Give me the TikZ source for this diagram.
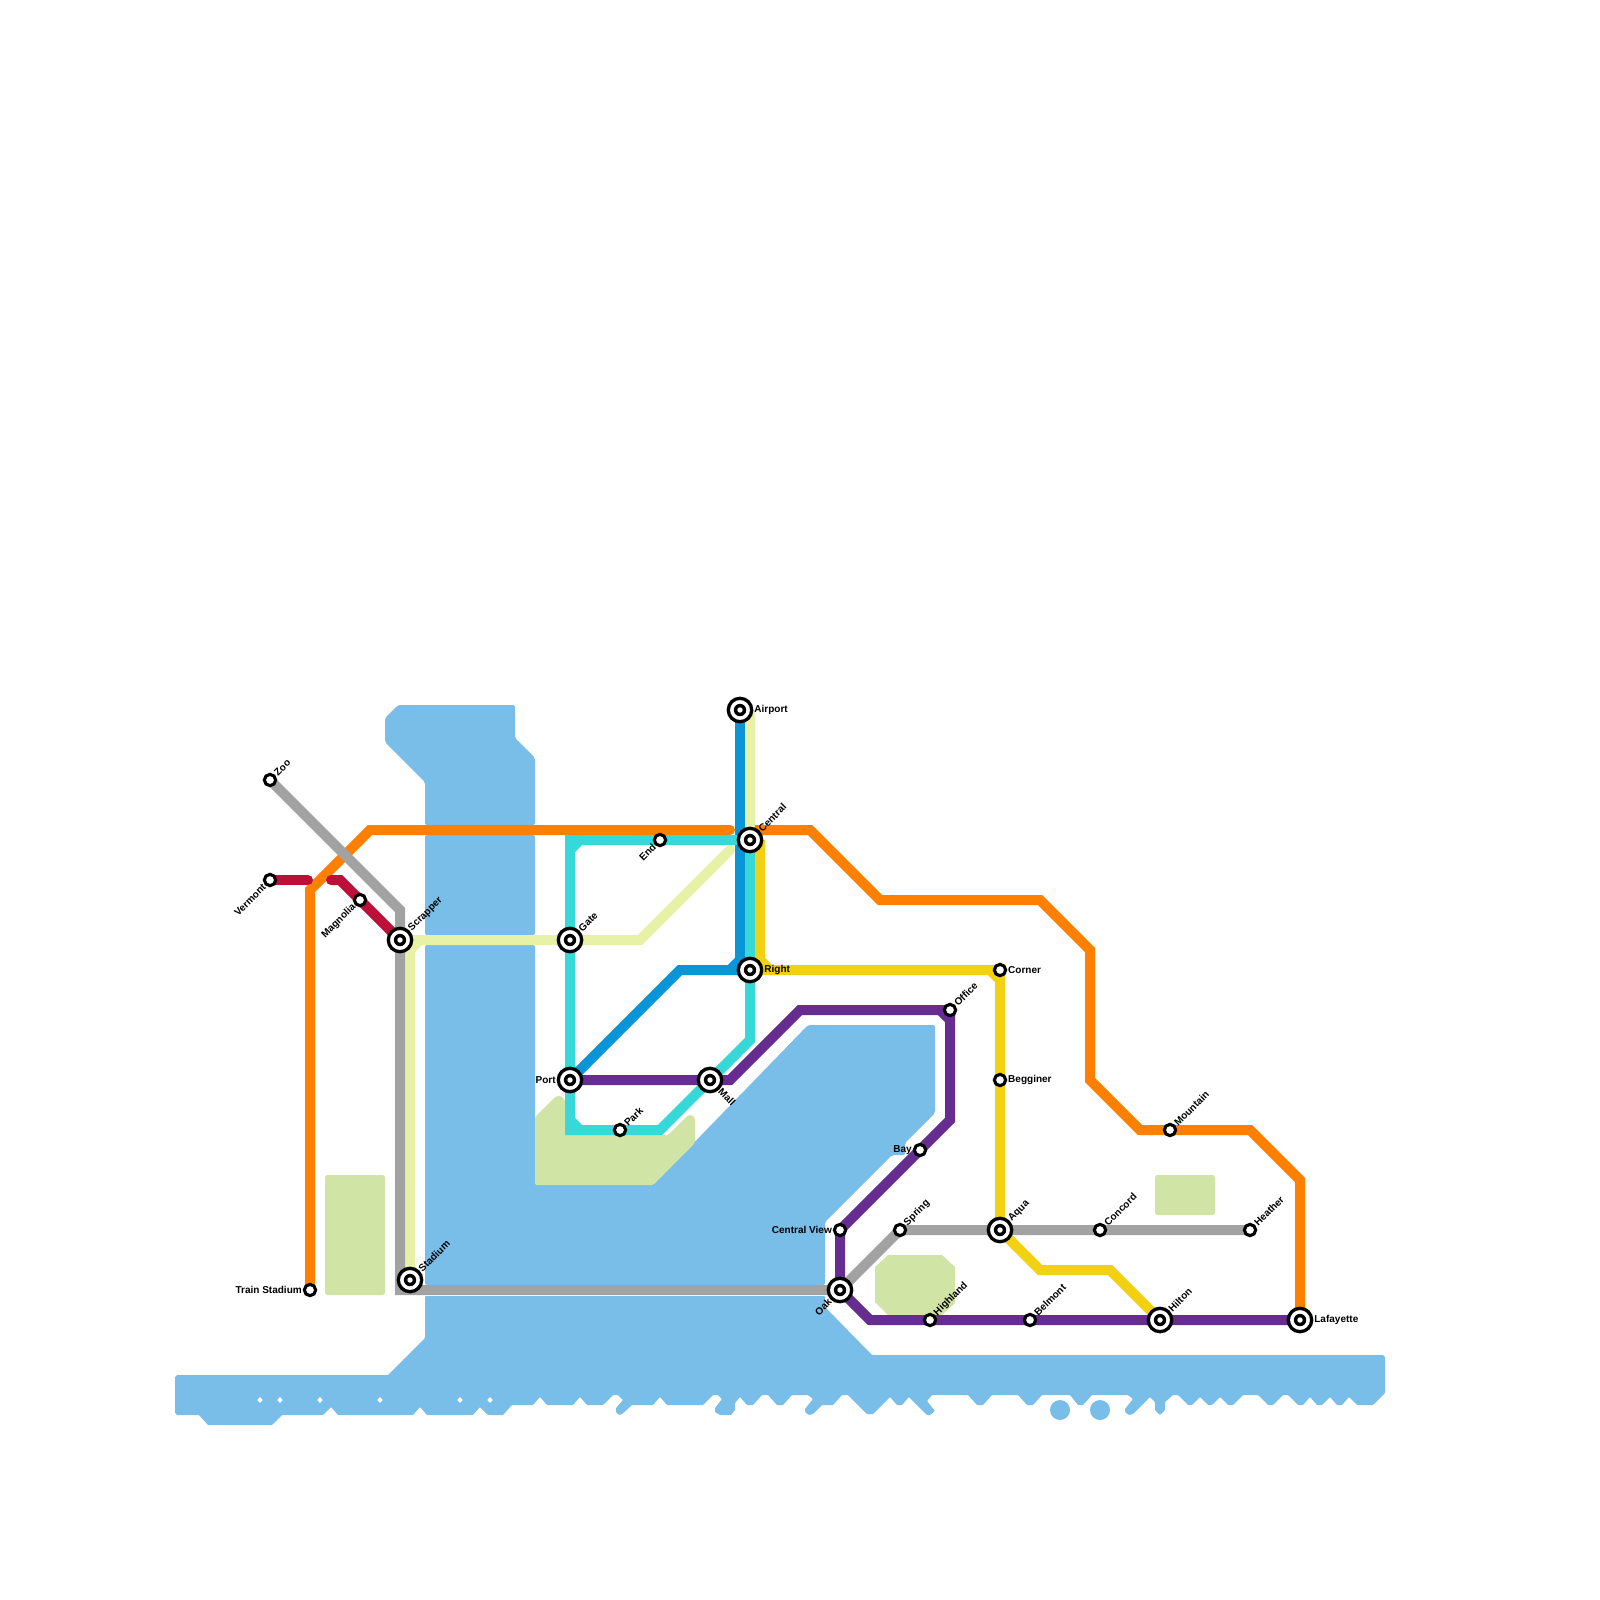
\documentclass[tikz,border=0pt]{standalone}
\usepackage{fontspec}
\setmainfont{Liberation Sans}
\pgfdeclarelayer{back}
\pgfsetlayers{back,main}
\definecolor{waterc}{HTML}{79BDE9}
\definecolor{parkc}{HTML}{D0E4A6}
\definecolor{orangec}{HTML}{FF8000}
\definecolor{grayc}{HTML}{A2A2A2}
\definecolor{crimsonc}{HTML}{BD1038}
\definecolor{palec}{HTML}{E8F2A6}
\definecolor{tealc}{HTML}{36D8D8}
\definecolor{bluec}{HTML}{0A95D6}
\definecolor{yellowc}{HTML}{F2D012}
\definecolor{purplec}{HTML}{662C90}
\tikzset{
  line/.style={line width=1mm, line join=miter, miter limit=4},
  water/.style={fill=waterc, rounded corners=0.2mm},
  shore/.style={fill=waterc, rounded corners=0.08mm},
  park/.style={fill=parkc, rounded corners=0.25mm},
  stop/.style={circle, draw=black, fill=white, line width=0.31mm, minimum size=1.13mm, inner sep=0pt},
  hub/.style={circle, draw=black, fill=white, line width=0.33mm, minimum size=2.34mm, inner sep=0pt, path picture={\fill[black] (path picture bounding box.center) circle (0.62mm); \fill[white] (path picture bounding box.center) circle (0.27mm);}},
  tag/.style={font=\fontsize{2.85pt}{3.4pt}\selectfont\bfseries, inner sep=0.03mm},
  tagne/.style={tag, rotate=45, anchor=west},
  tagsw/.style={tag, rotate=45, anchor=east},
  tagse/.style={tag, rotate=-45, anchor=west},
  tage/.style={tag, anchor=west},
  tagw/.style={tag, anchor=east},
}
\begin{document}
\begin{tikzpicture}[x=1mm, y=-1mm]
\useasboundingbox (0,0) rectangle (160,160);
% stations
\node[stop] (zoo) at (27,78) {};
\node[stop] (vermont) at (27,88) {};
\node[stop] (magnolia) at (36,90) {};
\node[stop] (trainstadium) at (31,129) {};
\node[hub] (scrapper) at (40,94) {};
\node[hub] (stadium) at (41,128) {};
\node[hub] (gate) at (57,94) {};
\node[hub] (port) at (57,108) {};
\node[stop] (park) at (62,113) {};
\node[stop] (endst) at (66,84) {};
\node[hub] (mall) at (71,108) {};
\node[hub] (airport) at (74,71) {};
\node[hub] (central) at (75,84) {};
\node[hub] (right) at (75,97) {};
\node[stop] (office) at (95,101) {};
\node[stop] (bay) at (92,115) {};
\node[stop] (centralview) at (84,123) {};
\node[hub] (oak) at (84,129) {};
\node[stop] (spring) at (90,123) {};
\node[stop] (highland) at (93,132) {};
\node[stop] (corner) at (100,97) {};
\node[stop] (begginer) at (100,108) {};
\node[hub] (aqua) at (100,123) {};
\node[stop] (belmont) at (103,132) {};
\node[stop] (concord) at (110,123) {};
\node[hub] (hilton) at (116,132) {};
\node[stop] (mountain) at (117,113) {};
\node[stop] (heather) at (125,123) {};
\node[hub] (lafayette) at (130,132) {};
% labels
\node[tagne] (zootag) at (zoo.45) {Zoo};
\node[tagsw] (vermonttag) at (vermont.225) {Vermont};
\node[tagsw] (magnoliatag) at (magnolia.225) {Magnolia};
\node[tagw] (trainstadiumtag) at (trainstadium.west) {Train Stadium};
\node[tagne] (scrappertag) at (scrapper.45) {Scrapper};
\node[tagne] (stadiumtag) at (stadium.45) {Stadium};
\node[tagne] (gatetag) at (gate.45) {Gate};
\node[tagw] (porttag) at (port.west) {Port};
\node[tagne] (parktag) at (park.45) {Park};
\node[tagsw] (endtag) at (endst.225) {End};
\node[tagse] (malltag) at (mall.-45) {Mall};
\node[tage] (airporttag) at (airport.east) {Airport};
\node[tagne] (centraltag) at (central.45) {Central};
\node[tage] (righttag) at (right.east) {Right};
\node[tagne] (officetag) at (office.45) {Office};
\node[tagw] (baytag) at (bay.west) {Bay};
\node[tagw] (centralviewtag) at (centralview.west) {Central View};
\node[tagsw] (oaktag) at (oak.225) {Oak};
\node[tagne] (springtag) at (spring.45) {Spring};
\node[tagne] (highlandtag) at (highland.45) {Highland};
\node[tage] (cornertag) at (corner.east) {Corner};
\node[tage] (begginertag) at (begginer.east) {Begginer};
\node[tagne] (aquatag) at (aqua.45) {Aqua};
\node[tagne] (belmonttag) at (belmont.45) {Belmont};
\node[tagne] (concordtag) at (concord.45) {Concord};
\node[tagne] (hiltontag) at (hilton.45) {Hilton};
\node[tagne] (mountaintag) at (mountain.45) {Mountain};
\node[tagne] (heathertag) at (heather.45) {Heather};
\node[tage] (lafayettetag) at (lafayette.east) {Lafayette};
\begin{pgfonlayer}{back}
% water
\fill[water] (38.5,71.8) -- (39.8,70.5) -- (51.5,70.5) -- (51.5,73.8) -- (53.5,75.8) -- (53.5,82.5) -- (42.5,82.5) -- (42.5,78.2) -- (38.5,74.2) -- cycle;
\fill[water] (42.5,83.5) rectangle (53.5,93.5);
\fill[water] (42.5,94.5) -- (53.5,94.5) -- (53.5,118.5) -- (65.3,118.5) -- (80.8,102.5) -- (93.5,102.5) -- (93.5,111.3) -- (90.5,114.3) -- (90.5,115.5) -- (89.2,115.5) -- (82.5,122.2) -- (82.5,128.5) -- (42.5,128.5) -- cycle;
\fill[shore] (42.5,129.6) -- (42.5,133.8) -- (38.8,137.5) -- (17.7,137.5) -- (17.5,137.7) -- (17.5,141.3) -- (17.7,141.5) -- (19.9,141.5) -- (20.8,142.5) -- (27.2,142.5) -- (28.2,141.5) -- (32.3,141.5) -- (33.1,140.7) -- (33.8,141.5) -- (41.3,141.5) -- (42,140.7) -- (42.7,141.5) -- (47.3,141.5) -- (48,140.7) -- (48.8,141.5) -- (50.3,141.5) -- (51.2,140.5)
  -- (53.3,140.5) -- (54,139.7) -- (54.7,140.5) -- (57.3,140.5) -- (58,139.7) -- (58.7,140.5) -- (60.3,140.5) -- (61.3,139.5) -- (61.8,139.5) -- (62.3,140) -- (61.6,140.8) -- (61.6,141.2) -- (61.9,141.5) -- (62.2,141.4) -- (63.2,140.5) -- (65.3,140.5) -- (66,139.7) -- (66.7,140.5) -- (70.3,140.5) -- (71.3,139.5) -- (71.8,139.5) -- (72.2,139.9) -- (71.5,140.8) -- (71.5,141.2) -- (72,141.5) -- (73.1,141.5) -- (73.5,141) -- (73.5,140.3) -- (74,139.7) -- (74.7,140.5) -- (75.3,140.5) -- (76.2,139.5) -- (76.8,139.5) -- (77.7,140.5) -- (78.3,140.5) -- (79.2,139.5)
  -- (80.8,139.5) -- (81.3,139.9) -- (80.5,140.9) -- (80.5,141.2) -- (80.9,141.5) -- (81.3,141.4) -- (82.2,140.5) -- (83.3,140.5) -- (84.2,139.5) -- (84.8,139.5) -- (86.7,141.4) -- (87.3,141.4) -- (89,139.7) -- (89.7,140.5) -- (90.2,140.5) -- (90.9,139.7) -- (92.7,141.5) -- (93,141.5) -- (93.5,141.1) -- (92.7,140.1) -- (93.2,139.5) -- (96.8,139.5) -- (97.7,140.5) -- (98.3,140.5) -- (99.2,139.5) -- (101.8,139.5) -- (102.7,140.5) -- (103.3,140.5) -- (104.2,139.5) -- (107,139.5) -- (107.8,140.5) -- (108.3,140.5) -- (109.2,139.5)
  -- (112.8,139.5) -- (113.3,139.9) -- (112.5,140.9) -- (112.5,141.2) -- (112.9,141.5) -- (113.3,141.4) -- (115,139.7) -- (115.5,140.2) -- (115.5,141) -- (116,141.5) -- (116.5,141) -- (116.5,140.2) -- (117.3,139.5) -- (117.8,139.5) -- (118.8,140.5) -- (119.2,140.5) -- (120,139.7) -- (120.8,140.5) -- (121.2,140.5) -- (122,139.7) -- (122.8,140.5) -- (123.3,140.5) -- (124.3,139.5) -- (125.8,139.5) -- (126.8,140.5) -- (127.3,140.5) -- (128.3,139.5) -- (128.8,139.5) -- (129.8,140.5) -- (130.3,140.5) -- (131,139.7) -- (131.7,140.5) -- (132.2,140.5) -- (133,139.7) -- (133.7,140.5) -- (134.2,140.5) -- (134.9,139.7) -- (135.7,140.5) -- (137.3,140.5) -- (138.5,139.3)
  -- (138.5,135.7) -- (138.3,135.5) -- (87.2,135.5) -- (82.5,130.7) -- (82.5,129.6) -- cycle;
\fill[waterc] (106,141) circle (1mm);
\fill[waterc] (110,141) circle (1mm);
% small gaps in the water
\foreach \gapx in {26,28,32,38,46,49}
  \fill[white] (\gapx-0.27,140) -- (\gapx,139.7) -- (\gapx+0.27,140) -- (\gapx,140.3) -- cycle;
% parks
\fill[park] (32.5,117.5) rectangle (38.5,129.5);
\fill[park] (115.5,117.5) rectangle (121.5,121.5);
\fill[park] (53.5,111.7) -- (55.5,109.7) -- (56,109.5) -- (56.5,110) -- (56.5,113.5) -- (66.8,113.5) -- (68.8,111.5) -- (69.2,111.5) -- (69.5,111.8) -- (69.5,114.3) -- (65.3,118.5) -- (53.5,118.5) -- cycle;
\fill[parkc] (87.5,126.7) -- (88.8,125.5) -- (94.2,125.5) -- (95.5,126.7) -- (95.5,130.3) -- (94.2,131.5) -- (88.8,131.5) -- (87.5,130.2) -- cycle;
% lines
\draw[line, orangec, line cap=round] (trainstadium.center) -- (31,89) -- (37,83) -- (73,83);
\draw[line, orangec] (central.center) -- (75,83) -- (81,83) -- (88,90) -- (104,90) -- (109,95) -- (109,108) -- (114,113) -- (125,113) -- (130,118) -- (lafayette.center);
\draw[line, bluec] (airport.center) -- (74,96) -- (73,97);
\draw[line, bluec] (port.center) -- (68,97) -- (right.center);
\draw[line, palec] (75,71) -- (central.center);
\draw[line, palec, line cap=round] (73,85) -- (64,94) -- (scrapper.center);
\draw[line, palec] (41,95) -- (42,94);
\draw[line, palec] (41,94) -- (stadium.center);
\draw[line, tealc] (central.center) -- (57,84) -- (57,113) -- (66,113) -- (75,104) -- (central.center);
\draw[line, tealc] (57,85) -- (58,84);
\draw[line, tealc] (57,112) -- (58,113);
\draw[line, crimsonc, line cap=round] (vermont.center) -- (30.8,88);
\draw[line, crimsonc, line cap=round] (33.1,88) -- (34,88) -- (scrapper.center);
\draw[line, grayc] (zoo.center) -- (40,91) -- (40,129) -- (oak.center);
\draw[line, grayc] (oak.center) -- (spring.center) -- (heather.center);
\draw[line, yellowc] (76,84) -- (76,97) -- (100,97) -- (aqua.center) -- (104,127) -- (111,127) -- (hilton.center);
\draw[line, yellowc] (76,96) -- (77,97);
\draw[line, yellowc] (99,97) -- (100,98);
\draw[line, purplec] (port.center) -- (73,108) -- (80,101) -- (95,101) -- (95,112) -- (84,123) -- (84,129) -- (87,132) -- (lafayette.center);
\draw[line, purplec] (94,101) -- (95,102);
\end{pgfonlayer}
\end{tikzpicture}
\end{document}
